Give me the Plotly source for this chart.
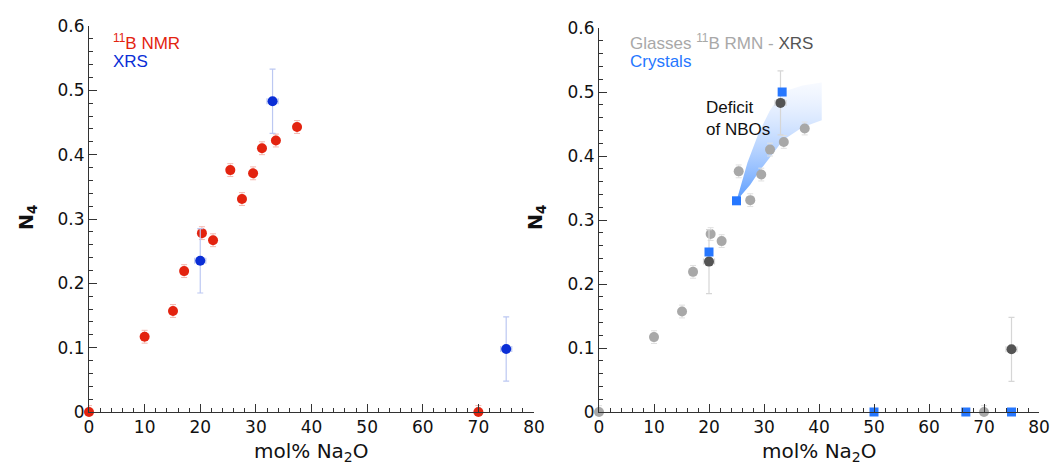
import plotly.graph_objects as go

# ---- data ----
nmr_x = [0, 10, 15.1, 17.1, 20.3, 22.3, 25.4, 27.5, 29.5, 31.1, 33.6, 37.4, 70]
nmr_y = [0, 0.117, 0.157, 0.219, 0.278, 0.267, 0.376, 0.331, 0.371, 0.410, 0.422, 0.443, 0]
nmr_err = [0.01] * len(nmr_x)

xrs_x = [20, 33, 75]
xrs_y = [0.235, 0.483, 0.098]
xrs_err = [0.05, 0.05, 0.05]
xrs_xerr = [1, 1, 1]

cry_x = [20, 25, 33.3, 50, 66.7, 75]
cry_y = [0.25, 0.33, 0.50, 0, 0, 0]

def_up_x = [25, 27, 29, 31, 33.3, 37, 40.5]
def_up_y = [0.33, 0.39, 0.435, 0.47, 0.50, 0.51, 0.515]
def_lo_x = [25, 27.5, 29.3, 33.5, 37, 40.5]
def_lo_y = [0.33, 0.355, 0.378, 0.425, 0.445, 0.456]

x_ticks = [0, 10, 20, 30, 40, 50, 60, 70, 80]
y_ticks = [0, 0.1, 0.2, 0.3, 0.4, 0.5, 0.6]

RED = "#e3230f"
BLUE = "#0a2ed6"
GRAY = "#a8a8a8"
DGRAY = "#545454"
CBLUE = "#2677ff"
FONT = "Liberation Sans"
TFONT = "DejaVu Sans"

# body margin is removed in the page, so the figure fills the window
W, H, OFF = 1051, 472, 0
def px(x):
    return (x - OFF) / W
def py(y):
    return 1 - (y - OFF) / H

fig = go.Figure()

# ---- left panel ----
fig.add_trace(go.Scatter(x=nmr_x, y=nmr_y, mode="markers", xaxis="x", yaxis="y",
                         marker=dict(color=RED, size=10),
                         error_y=dict(type="data", array=nmr_err, color="#f4b8b0", thickness=1, width=3),
                         cliponaxis=False, showlegend=False))
fig.add_trace(go.Scatter(x=xrs_x, y=xrs_y, mode="markers", xaxis="x", yaxis="y",
                         marker=dict(color=BLUE, size=10),
                         error_y=dict(type="data", array=xrs_err, color="#bcc8f2", thickness=1.2, width=3),
                         error_x=dict(type="data", array=xrs_xerr, color="#bcc8f2", thickness=1.2, width=3),
                         cliponaxis=False, showlegend=False))

# ---- right panel ----
up_pts = list(zip(def_up_x, def_up_y))
lo_pts = list(zip(def_lo_x, def_lo_y))[::-1]
poly = up_pts + lo_pts
fig.add_trace(go.Scatter(x=[p[0] for p in poly], y=[p[1] for p in poly], mode="lines",
                         xaxis="x2", yaxis="y2", fill="toself", line=dict(width=0),
                         fillgradient=dict(type="vertical", start=0.33, stop=0.52,
                                           colorscale=[[0, "rgba(80,150,255,0.95)"],
                                                       [1, "rgba(230,238,255,0.25)"]]),
                         hoverinfo="skip", showlegend=False))
fig.add_trace(go.Scatter(x=nmr_x, y=nmr_y, mode="markers", xaxis="x2", yaxis="y2",
                         marker=dict(color=GRAY, size=10),
                         error_y=dict(type="data", array=nmr_err, color="#e0e0e0", thickness=1, width=3),
                         cliponaxis=False, showlegend=False))
fig.add_trace(go.Scatter(x=xrs_x, y=xrs_y, mode="markers", xaxis="x2", yaxis="y2",
                         marker=dict(color=DGRAY, size=10),
                         error_y=dict(type="data", array=xrs_err, color="#d6d6d6", thickness=1.2, width=3),
                         error_x=dict(type="data", array=xrs_xerr, color="#d6d6d6", thickness=1.2, width=3),
                         cliponaxis=False, showlegend=False))
fig.add_trace(go.Scatter(x=cry_x, y=cry_y, mode="markers", xaxis="x2", yaxis="y2",
                         marker=dict(color=CBLUE, size=9, symbol="square"),
                         cliponaxis=False, showlegend=False))

axis_common = dict(showgrid=False, zeroline=False, showline=True, linecolor="#333333", linewidth=1,
                   ticks="inside", ticklen=8, tickcolor="#333333", tickwidth=1, automargin=False,
                   tickfont=dict(family=TFONT, size=17, color="#111111"))
xax = dict(axis_common, range=[0, 80], tickvals=x_ticks, ticktext=[str(v) for v in x_ticks],
           minor=dict(dtick=2, ticks="inside", ticklen=4, tickcolor="#333333"))
yax = dict(axis_common, range=[0, 0.6], tickvals=y_ticks,
           ticktext=["0", "0.1", "0.2", "0.3", "0.4", "0.5", "0.6"],
           minor=dict(dtick=0.02, ticks="inside", ticklen=4, tickcolor="#333333"))

fig.update_layout(
    width=W, height=H, margin=dict(l=0, r=0, t=0, b=0, autoexpand=False),
    paper_bgcolor="white", plot_bgcolor="white",
    xaxis=dict(xax, domain=[px(89), px(534)], anchor="y"),
    yaxis=dict(yax, domain=[py(412), py(26)], anchor="x"),
    xaxis2=dict(xax, domain=[px(599), px(1039)], anchor="y2"),
    yaxis2=dict(yax, domain=[py(412), py(28)], anchor="x2"),
)

ann = []
# axis titles
for xc in [311, 819]:
    ann.append(dict(xref="paper", yref="paper", x=px(xc), y=py(452), text="mol% Na<sub>2</sub>O",
                    showarrow=False, font=dict(family=TFONT, size=20, color="#111"),
                    xanchor="center", yanchor="middle"))
for xc in [27, 536]:
    ann.append(dict(xref="paper", yref="paper", x=px(xc), y=py(218), text="<b>N<sub>4</sub></b>",
                    showarrow=False, textangle=-90, font=dict(family=TFONT, size=19, color="#111"),
                    xanchor="center", yanchor="middle"))
# legends
ann.append(dict(xref="paper", yref="paper", x=px(111), y=py(42), text="<sup>11</sup>B NMR",
                showarrow=False, font=dict(family=FONT, size=17, color=RED), xanchor="left", yanchor="middle"))
ann.append(dict(xref="paper", yref="paper", x=px(111), y=py(62), text="XRS",
                showarrow=False, font=dict(family=FONT, size=17, color=BLUE), xanchor="left", yanchor="middle"))
ann.append(dict(xref="paper", yref="paper", x=px(628), y=py(42),
                text="Glasses <sup>11</sup>B RMN - <span style='color:%s'>XRS</span>" % DGRAY,
                showarrow=False, font=dict(family=FONT, size=17, color=GRAY), xanchor="left", yanchor="middle"))
ann.append(dict(xref="paper", yref="paper", x=px(628), y=py(62), text="Crystals",
                showarrow=False, font=dict(family=FONT, size=17, color=CBLUE), xanchor="left", yanchor="middle"))
ann.append(dict(xref="paper", yref="paper", x=px(704), y=py(118), text="Deficit<br>of NBOs",
                showarrow=False, align="left", font=dict(family=FONT, size=17, color="#111"),
                xanchor="left", yanchor="middle"))
fig.update_layout(annotations=ann)

fig.write_html("out.html", config={"displayModeBar": False},
               post_script="document.body.style.margin='0';document.body.style.overflow='hidden';")
